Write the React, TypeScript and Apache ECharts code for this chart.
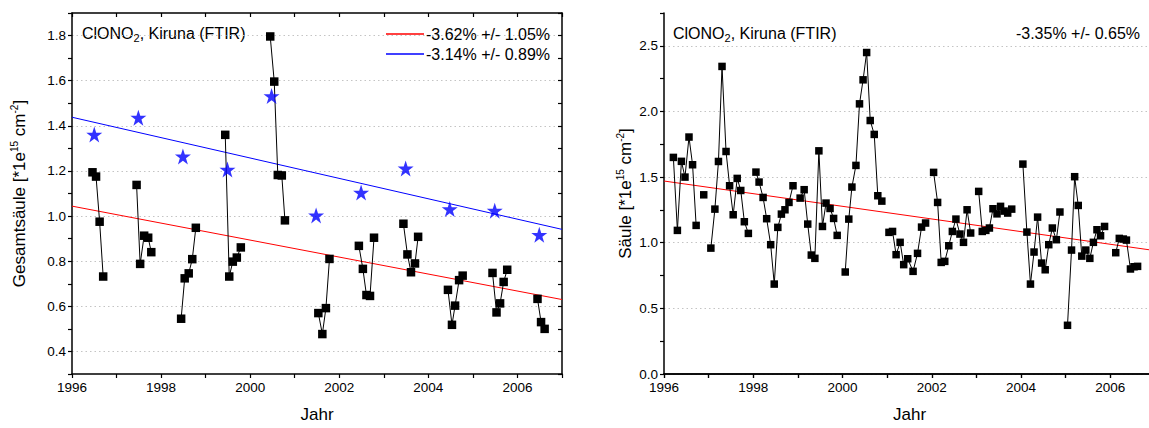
import React, { useEffect, useRef } from "react";
import * as echarts from "echarts";

// ---------- data ----------
// Left panel: seasonal measurements, one group per year [year, column]
const leftGroups: number[][][] = [
  [[1996.46, 1.194], [1996.54, 1.175], [1996.62, 0.975], [1996.7, 0.732]],
  [[1997.45, 1.138], [1997.53, 0.788], [1997.62, 0.913], [1997.71, 0.904], [1997.78, 0.84]],
  [[1998.45, 0.545], [1998.53, 0.724], [1998.62, 0.746], [1998.7, 0.809], [1998.78, 0.948]],
  [[1999.44, 1.36], [1999.53, 0.732], [1999.61, 0.798], [1999.7, 0.816], [1999.79, 0.861]],
  [[2000.45, 1.796], [2000.54, 1.596], [2000.62, 1.182], [2000.71, 1.18], [2000.78, 0.981]],
  [[2001.53, 0.57], [2001.62, 0.477], [2001.7, 0.592], [2001.78, 0.81]],
  [[2002.44, 0.868], [2002.53, 0.766], [2002.61, 0.65], [2002.69, 0.646], [2002.78, 0.904]],
  [[2003.44, 0.966], [2003.53, 0.83], [2003.61, 0.751], [2003.7, 0.79], [2003.77, 0.908]],
  [[2004.44, 0.673], [2004.53, 0.518], [2004.6, 0.603], [2004.69, 0.716], [2004.77, 0.736]],
  [[2005.44, 0.748], [2005.53, 0.573], [2005.61, 0.613], [2005.69, 0.708], [2005.77, 0.762]],
  [[2006.45, 0.633], [2006.53, 0.53], [2006.61, 0.5]],
];
// Left panel: annual values (blue stars)
const starYears = [1996.5, 1997.49, 1998.49, 1999.49, 2000.48, 2001.48, 2002.49, 2003.49, 2004.48, 2005.49, 2006.49];
const starValues = [1.361, 1.436, 1.264, 1.206, 1.532, 1.003, 1.104, 1.211, 1.031, 1.024, 0.917];
// Left panel fit lines (end points)
const leftRedFit = [[1996, 1.044], [2007, 0.63]];
const leftBlueFit = [[1996, 1.438], [2007, 0.941]];
const leftRedLabel = "-3.62% +/- 1.05%";
const leftBlueLabel = "-3.14% +/- 0.89%";

// Right panel: monthly values, one group per year [year, column]
const rightGroups: number[][][] = [
  [[1996.21, 1.65], [1996.3, 1.094], [1996.39, 1.62], [1996.47, 1.5], [1996.56, 1.805], [1996.64, 1.594], [1996.72, 1.132]],
  [[1996.89, 1.365]],
  [[1997.05, 0.959], [1997.14, 1.256], [1997.22, 1.619], [1997.3, 2.343], [1997.39, 1.695], [1997.47, 1.434], [1997.55, 1.213], [1997.64, 1.49], [1997.72, 1.398], [1997.8, 1.16], [1997.89, 1.071]],
  [[1998.06, 1.538], [1998.13, 1.462], [1998.22, 1.345], [1998.3, 1.183], [1998.39, 0.985], [1998.47, 0.685], [1998.55, 1.117], [1998.63, 1.218], [1998.71, 1.251], [1998.8, 1.307], [1998.89, 1.434]],
  [[1999.05, 1.34], [1999.14, 1.404], [1999.22, 1.142], [1999.3, 0.906], [1999.38, 0.881], [1999.47, 1.7], [1999.55, 1.124], [1999.63, 1.302], [1999.72, 1.261], [1999.8, 1.185], [1999.88, 1.056]],
  [[2000.06, 0.777], [2000.14, 1.18], [2000.21, 1.424], [2000.3, 1.589], [2000.38, 2.058], [2000.46, 2.241], [2000.54, 2.449], [2000.62, 1.931], [2000.71, 1.825], [2000.79, 1.358], [2000.88, 1.317]],
  [[2001.04, 1.079], [2001.12, 1.086], [2001.2, 0.909], [2001.29, 1.003], [2001.37, 0.833], [2001.46, 0.878], [2001.58, 0.782], [2001.68, 0.919], [2001.77, 1.119], [2001.86, 1.15]],
  [[2002.04, 1.536], [2002.13, 1.307], [2002.21, 0.85], [2002.29, 0.858], [2002.38, 0.977], [2002.46, 1.086], [2002.54, 1.18], [2002.63, 1.066], [2002.71, 1.003], [2002.79, 1.251], [2002.87, 1.074]],
  [[2003.05, 1.391], [2003.13, 1.086], [2003.21, 1.094], [2003.29, 1.112], [2003.37, 1.259], [2003.46, 1.22], [2003.54, 1.277], [2003.62, 1.241], [2003.7, 1.226], [2003.79, 1.256]],
  [[2004.04, 1.599], [2004.13, 1.081], [2004.21, 0.685], [2004.29, 0.929], [2004.37, 1.195], [2004.46, 0.845], [2004.54, 0.794], [2004.62, 0.985], [2004.7, 1.112], [2004.79, 1.023], [2004.87, 1.234]],
  [[2005.04, 0.371], [2005.13, 0.944], [2005.2, 1.503], [2005.28, 1.284], [2005.36, 0.898], [2005.45, 0.944], [2005.54, 0.881], [2005.62, 1.003], [2005.7, 1.099], [2005.78, 1.053], [2005.87, 1.124]],
  [[2006.12, 0.924], [2006.2, 1.033], [2006.29, 1.028], [2006.36, 1.02], [2006.45, 0.8], [2006.53, 0.817], [2006.61, 0.82]],
];
const rightRedFit = [[1996, 1.47], [2007, 0.94]];
const rightTrendLabel = "-3.35% +/- 0.65%";

const titleText = "ClONO{sub|2}, Kiruna (FTIR)";
const leftYName = "Gesamtsäule [*1e{sup|15} cm{sup|-2}]";
const rightYName = "Säule [*1e{sup|15} cm{sup|-2}]";
const xName = "Jahr";

// ---------- chart ----------
const FONT = "'Liberation Sans', Arial, Helvetica, sans-serif";
const STAR =
  "path://M50,0 L61.8,35.1 L98.9,35.1 L68.8,56.7 L80.3,91.9 L50,70.2 L19.7,91.9 L31.2,56.7 L1.1,35.1 L38.2,35.1 Z";

const axisLineStyle = { color: "#000", width: 1.5 };
const gridColor = "#c4c4c4";
const TXT = "#000";

function xAxesFor(gridIndex: number) {
  return [
    {
      type: "value",
      gridIndex,
      position: "bottom",
      min: 1996,
      max: 2007,
      interval: 1,
      name: xName,
      nameLocation: "middle",
      nameGap: 32,
      nameTextStyle: { fontFamily: FONT, fontSize: 17, color: TXT },
      axisLine: { lineStyle: axisLineStyle },
      axisTick: { length: 4, lineStyle: { color: "#000", width: 1.2 } },
      axisLabel: {
        fontFamily: FONT,
        fontSize: 13.5,
        color: TXT,
        margin: 6,
        formatter: (v: number) => (Math.round(v) % 2 === 0 ? String(Math.round(v)) : ""),
      },
      splitLine: { show: false },
    },
    {
      type: "value",
      gridIndex,
      position: "top",
      min: 1996,
      max: 2007,
      interval: 1,
      axisLine: { lineStyle: axisLineStyle },
      axisTick: { inside: true, length: 4, lineStyle: { color: "#000", width: 1.2 } },
      axisLabel: { show: false },
      splitLine: { show: false },
    },
  ];
}

function yAxesFor(
  gridIndex: number,
  min: number,
  max: number,
  step: number,
  labelEvery: number,
  name: string,
  nameGap: number,
  gridColors: string[],
) {
  const rich = { sup: { fontSize: 10, verticalAlign: "top", padding: [0, 0, 10, 0], fontFamily: FONT, color: TXT } };
  return [
    {
      type: "value",
      gridIndex,
      position: "left",
      min,
      max,
      interval: step,
      name,
      nameLocation: "middle",
      nameGap,
      nameRotate: 90,
      nameTextStyle: { fontFamily: FONT, fontSize: 17, color: TXT, rich },
      axisLine: { lineStyle: axisLineStyle },
      axisTick: { length: 4, lineStyle: { color: "#000", width: 1.2 } },
      axisLabel: {
        fontFamily: FONT,
        fontSize: 13.5,
        color: TXT,
        margin: 6,
        formatter: (v: number) => {
          const k = Math.round(v / step);
          const main = Math.round(labelEvery / step);
          return k % main === 0 ? v.toFixed(1) : "";
        },
      },
      splitLine: { show: true, lineStyle: { type: [1.5, 3], color: gridColors, width: 1 } },
    },
    {
      type: "value",
      gridIndex,
      position: "right",
      min,
      max,
      interval: step,
      axisLine: { lineStyle: axisLineStyle },
      axisTick: { inside: true, length: 4, lineStyle: { color: "#000", width: 1.2 } },
      axisLabel: { show: false },
      splitLine: { show: false },
    },
  ];
}

function groupSeries(groups: number[][][], xAxisIndex: number, yAxisIndex: number, size: number) {
  return groups.map((g) => ({
    type: "line",
    xAxisIndex,
    yAxisIndex,
    data: g,
    symbol: "rect",
    symbolSize: size,
    showSymbol: true,
    itemStyle: { color: "#000" },
    lineStyle: { color: "#000", width: 1 },
    z: 4,
    silent: true,
  }));
}

export default function App() {
  const ref = useRef<HTMLDivElement>(null);

  useEffect(() => {
    if (!ref.current) return;
    const chart = echarts.init(ref.current, null, { renderer: "svg" });

    const titleRich = {
      sub: { fontSize: 11, verticalAlign: "bottom", padding: [9, 0, 0, 0], fontFamily: FONT, fill: TXT },
    };

    const option: any = {
      animation: false,
      backgroundColor: "#fff",
      textStyle: { fontFamily: FONT },
      grid: [
        { left: 72, top: 13, width: 490, height: 361, containLabel: false },
        { left: 664, top: 13, width: 491, height: 361, containLabel: false },
      ],
      xAxis: [...xAxesFor(0), ...xAxesFor(1)],
      yAxis: [
        ...yAxesFor(0, 0.3, 1.9, 0.1, 0.2, leftYName, 43, ["rgba(0,0,0,0)", gridColor]),
        ...yAxesFor(1, 0, 2.75, 0.25, 0.5, rightYName, 29, [gridColor, "rgba(0,0,0,0)"]),
      ],
      legend: {
        show: true,
        data: [leftRedLabel, leftBlueLabel],
        orient: "vertical",
        left: 381,
        top: 21,
        icon: "rect",
        itemWidth: 38,
        itemHeight: 1.3,
        itemGap: 4,
        textStyle: { fontFamily: FONT, fontSize: 16, color: TXT, padding: [0, 0, 0, -3] },
        selectedMode: false,
      },
      graphic: [
        {
          type: "text",
          left: 82,
          top: 25,
          style: { text: titleText, rich: titleRich, font: `16px ${FONT}`, fill: TXT },
        },
        {
          type: "text",
          left: 673,
          top: 25,
          style: { text: titleText, rich: titleRich, font: `16px ${FONT}`, fill: TXT },
        },
        {
          type: "text",
          right: 20,
          top: 25,
          style: { text: rightTrendLabel, font: `16px ${FONT}`, fill: TXT },
        },
      ],
      series: [
        {
          type: "line",
          name: leftRedLabel,
          xAxisIndex: 0,
          yAxisIndex: 0,
          data: leftRedFit,
          symbol: "none",
          lineStyle: { color: "#ff0000", width: 1 },
          itemStyle: { color: "#ff0000" },
          z: 3,
          silent: true,
        },
        {
          type: "line",
          name: leftBlueLabel,
          xAxisIndex: 0,
          yAxisIndex: 0,
          data: leftBlueFit,
          symbol: "none",
          lineStyle: { color: "#0000ff", width: 1 },
          itemStyle: { color: "#0000ff" },
          z: 3,
          silent: true,
        },
        ...groupSeries(leftGroups, 0, 0, 8.5),
        {
          type: "scatter",
          xAxisIndex: 0,
          yAxisIndex: 0,
          data: starYears.map((t, i) => [t, starValues[i]]),
          symbol: STAR,
          symbolSize: 16,
          itemStyle: { color: "#0000ff" },
          z: 5,
          silent: true,
        },
        {
          type: "line",
          name: "fit",
          xAxisIndex: 2,
          yAxisIndex: 2,
          data: rightRedFit,
          symbol: "none",
          lineStyle: { color: "#ff0000", width: 1 },
          z: 3,
          silent: true,
        },
        ...groupSeries(rightGroups, 2, 2, 7.5),
      ],
    };

    chart.setOption(option);
    return () => chart.dispose();
  }, []);

  return (
    <div style={{ position: "fixed", left: 0, top: 0, width: 1149, height: 428, overflow: "hidden", background: "#fff" }}>
      <div ref={ref} style={{ width: 1160, height: 428 }} />
    </div>
  );
}
